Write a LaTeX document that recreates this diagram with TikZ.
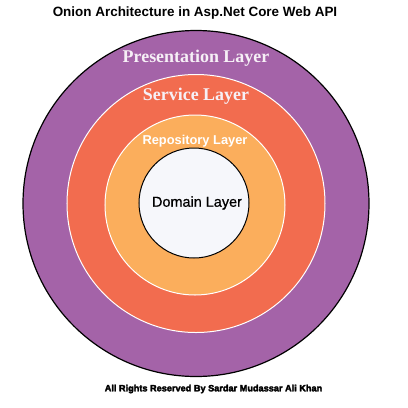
\documentclass[tikz,border=0pt]{standalone}
\usepackage{fontspec}
\setmainfont{Liberation Serif}
\setsansfont{Liberation Sans}
\newfontfamily\heavyfont{Liberation Sans}[BoldFeatures={FakeBold=3}]
\newfontfamily\domfont{Liberation Sans}[FakeBold=0.6]
\definecolor{presc}{HTML}{A463A8}
\definecolor{servc}{HTML}{F26C4F}
\definecolor{repoc}{HTML}{FBAE5C}
\definecolor{domc}{HTML}{F6F7FB}
\definecolor{labc}{HTML}{F6F0F6}
\begin{document}
\begin{tikzpicture}[x=1bp,y=-1bp,
  ring/.style={circle,inner sep=0pt,minimum size=#1},
  title/.style={font=\sffamily\bfseries\fontsize{13.5}{15}\selectfont,text=black},
  serlab/.style={font=\rmfamily\bfseries\fontsize{18}{20}\selectfont,text=labc},
  repolab/.style={font=\sffamily\bfseries\fontsize{12.9}{15}\selectfont,text=white},
  domlab/.style={font=\domfont\fontsize{14.5}{16}\selectfont,text=black},
  foot/.style={font=\heavyfont\bfseries\fontsize{9.2}{10}\selectfont,text=black}]
\useasboundingbox[fill=white] (0,0) rectangle (408,408);
\node[ring=346bp,fill=presc,draw=black,line width=1.2bp] (pres) at (196,203.5) {};
\node[ring=258bp,fill=servc,draw=white,line width=1bp] (serv) at (196,203.5) {};
\node[ring=180bp,fill=repoc,draw=white,line width=1bp] (repo) at (195,205) {};
\node[ring=110bp,fill=domc,draw=black,line width=1bp] (dom) at (194,203) {};
\node[title] (t) at (195,13) {Onion Architecture in Asp.Net Core Web API};
\node[serlab] (pl) at (196,58) {Presentation Layer};
\node[serlab] (sl) at (196,96) {Service Layer};
\node[repolab] (rl) at (195,141) {Repository Layer};
\node[domlab] (dl) at (197,203) {Domain Layer};
\node[foot] (f) at (213.5,389) {All Rights Reserved By Sardar Mudassar Ali Khan};
\end{tikzpicture}
\end{document}
